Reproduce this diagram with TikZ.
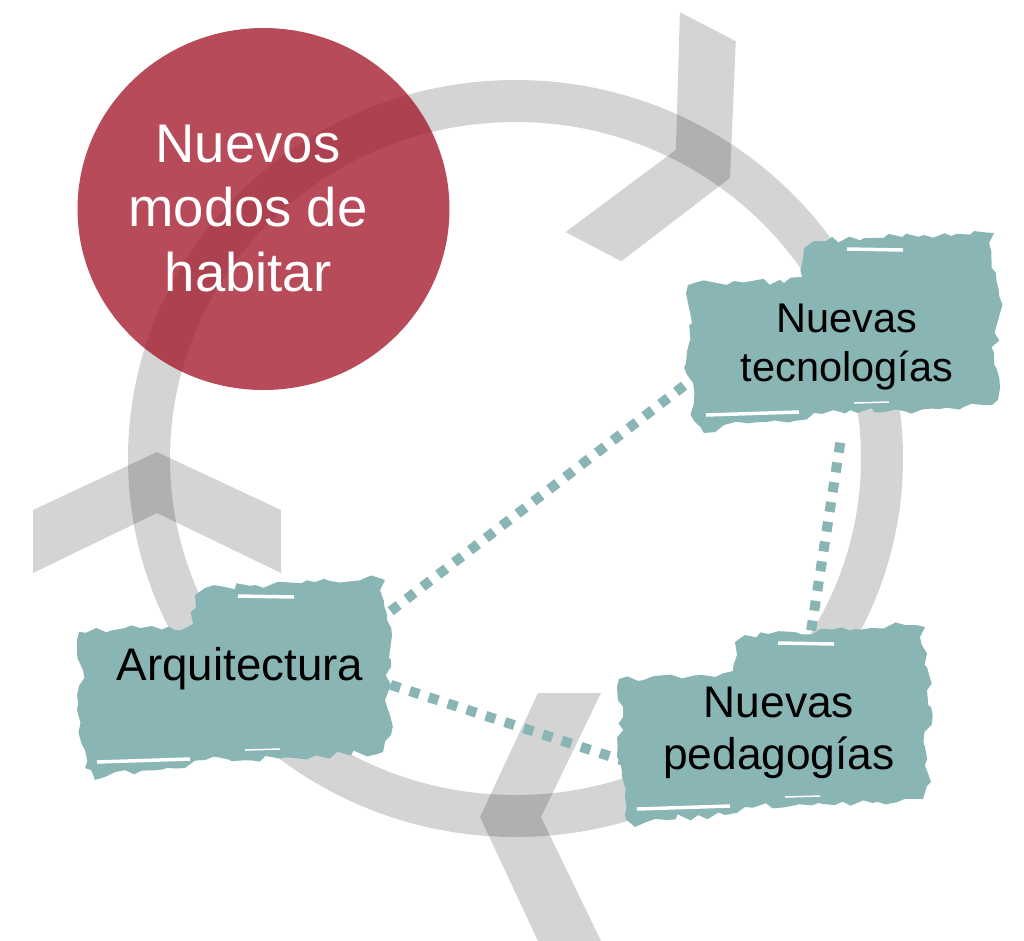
\documentclass[tikz,border=0pt]{standalone}
\usepackage{fontspec}
\setmainfont{Liberation Sans}
\usetikzlibrary{calc,decorations.pathmorphing}
\pgfdeclarelayer{back}
\pgfsetlayers{back,main}
\definecolor{wine}{RGB}{166,30,47}
\definecolor{sea}{RGB}{137,181,180}

\begin{document}
\begin{tikzpicture}[
  idea/.style={minimum width=3cm, minimum height=1.9cm, inner sep=0pt, align=center},
  band/.style={fill=black, opacity=0.17},
  brush/.style={fill=sea, decorate, decoration={random steps, segment length=2.5pt, amplitude=1pt}},
  link/.style={draw=sea, line width=0.1cm, dash pattern=on 0.1cm off 0.1cm}
]
  \useasboundingbox (0,0) rectangle (10.24,-9.40);
  \pgfmathsetseed{12}

  % Labels
  \node[align=center, text=white, font=\fontsize{15.5}{18.3}\selectfont] (habitar) at (2.48,-2.085) {Nuevos\\modos de\\habitar};
  \node[idea, font=\fontsize{11.8}{14.2}\selectfont] (tec) at (8.47,-3.47) {Nuevas\\tecnologías};
  \node[idea, font=\fontsize{13}{15.6}\selectfont] (arq) at (2.40,-6.69) {Arquitectura};
  \node[idea, font=\fontsize{12.6}{14.8}\selectfont] (ped) at (7.79,-7.33) {Nuevas\\pedagogías};

  \begin{pgfonlayer}{back}
    % Ring and arrow heads
    \draw[black, opacity=0.17, line width=0.42cm] (5.155,-4.585) ellipse [x radius=3.665, y radius=3.575];
    \foreach \x/\y/\r in {1.57/-4.52/0, 7.30/-1.78/-117.5, 4.80/-8.17/90}
      \fill[band, shift={(\x,\y)}, rotate=\r] (0,0) -- (1.24,-0.58) -- (1.24,-1.21) -- (0,-0.61)
        -- (-1.24,-1.21) -- (-1.24,-0.58) -- cycle;

    % Red circle
    \fill[wine, fill opacity=0.8] (2.635,-2.09) ellipse [x radius=1.86, y radius=1.81];

    % Brush strokes
    \foreach \n/\dx/\dy in {tec/-0.03/0.14, arq/-0.05/-0.11, ped/-0.04/0.06} {
      \begin{scope}[shift={($(\n)+(\dx,\dy)$)}]
        \fill[brush] (-1.56,0.48) -- (-1.10,0.52) -- (-0.60,0.50) -- (-0.42,0.56) -- (-0.40,0.85)
          -- (-0.30,0.92) -- (0.20,0.95) -- (0.80,0.98) -- (1.30,1.02) -- (1.50,1.00) -- (1.45,0.90)
          -- (1.52,0.60) -- (1.56,0.20) -- (1.50,-0.20) -- (1.56,-0.55) -- (1.48,-0.72) -- (0.60,-0.78)
          -- (-0.30,-0.80) -- (-0.50,-0.88) -- (-1.20,-0.92) -- (-1.40,-1.00) -- (-1.50,-0.88)
          -- (-1.50,-0.70) -- (-1.58,-0.30) -- (-1.52,0.10) -- (-1.58,0.40) -- cycle;
        \draw[white, line width=0.035cm] (0.03,0.84) -- (0.59,0.83);
        \draw[white, line width=0.035cm] (-1.38,-0.82) -- (-0.45,-0.79);
        \draw[white, line width=0.015cm] (0.10,-0.70) -- (0.45,-0.69);
      \end{scope}
    }

    % Dotted links
    \draw[link] (arq.21) -- (tec.191);
    \draw[link] (tec.266) -- (ped.72);
    \draw[link] (arq.354) -- (ped.191);
  \end{pgfonlayer}
\end{tikzpicture}
\end{document}
